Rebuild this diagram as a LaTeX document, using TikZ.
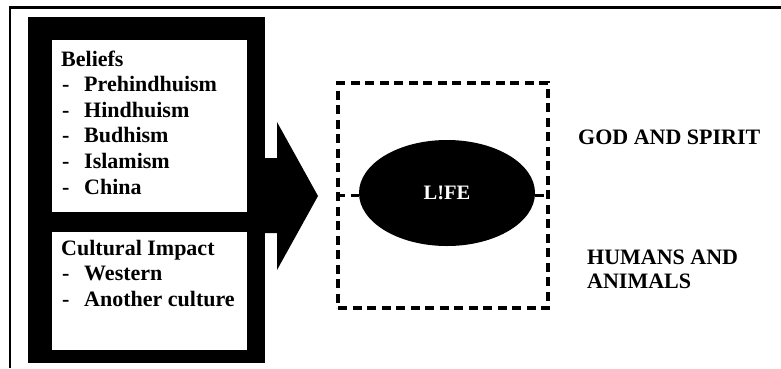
\documentclass[tikz,border=0pt]{standalone}
\usepackage{fontspec}
\setmainfont{Liberation Serif}
\usetikzlibrary{shapes.geometric}
\tikzset{
  blackframe/.style={fill=black},
  panel/.style={fill=white},
  txt/.style={
    font=\fontsize{22}{25.6}\selectfont\bfseries,
    anchor=base west,
    inner sep=0pt
  },
  dashbox/.style={draw=black, line width=3.2pt, dash pattern=on 9pt off 5.5pt},
  lifenode/.style={
    ellipse,
    fill=black,
    minimum width=176pt,
    minimum height=106pt,
    text=white,
    font=\fontsize{20.5}{22}\selectfont\bfseries
  }
}

\begin{document}
\begin{tikzpicture}[x=1pt, y=-1pt]
\useasboundingbox (0,0) rectangle (781,368);

% page edge
\draw[line width=2.4pt] (10,368) -- (10,7.5) -- (781,7.5);

% left frame with its two panels
\path[blackframe] (28,17) rectangle (265,363);
\path[panel] (52,40) rectangle (247,212);
\path[panel] (52,232) rectangle (247,350);

% big arrow
\path[blackframe] (265,158) -- (277,158) -- (277,122) -- (318,196)
  -- (277,270) -- (277,233) -- (265,233) -- cycle;

% beliefs
\node[txt] (beliefs) at (61,66) {Beliefs};
\foreach \name [count=\i] in {Prehindhuism, Hindhuism, Budhism, Islamism, China} {
  \node[txt] (bdash\i) at ({62},{66+25.6*\i}) {-};
  \node[txt] (belief\i) at ({84},{66+25.6*\i}) {\name};
}

% cultural impact
\node[txt] (impact) at (61,255) {Cultural Impact};
\foreach \name [count=\i] in {Western, Another culture} {
  \node[txt] (cdash\i) at ({62},{255+25.6*\i}) {-};
  \node[txt] (culture\i) at ({84},{255+25.6*\i}) {\name};
}

% life
\node[dashbox, minimum width=210pt, minimum height=225pt] (lifebox) at (443,195.5) {};
\node[lifenode] (life) at (447,193) {L!FE};
\draw[dashbox] (lifebox.west) -- (lifebox.west -| life.west);
\draw[dashbox] (lifebox.east -| life.east) -- (lifebox.east);

% right labels
\node[txt] (god) at (578,144) {GOD AND SPIRIT};
\node[txt] (humans) at (587,264) {HUMANS AND};
\node[txt] (animals) at (587,288) {ANIMALS};

\end{tikzpicture}
\end{document}
